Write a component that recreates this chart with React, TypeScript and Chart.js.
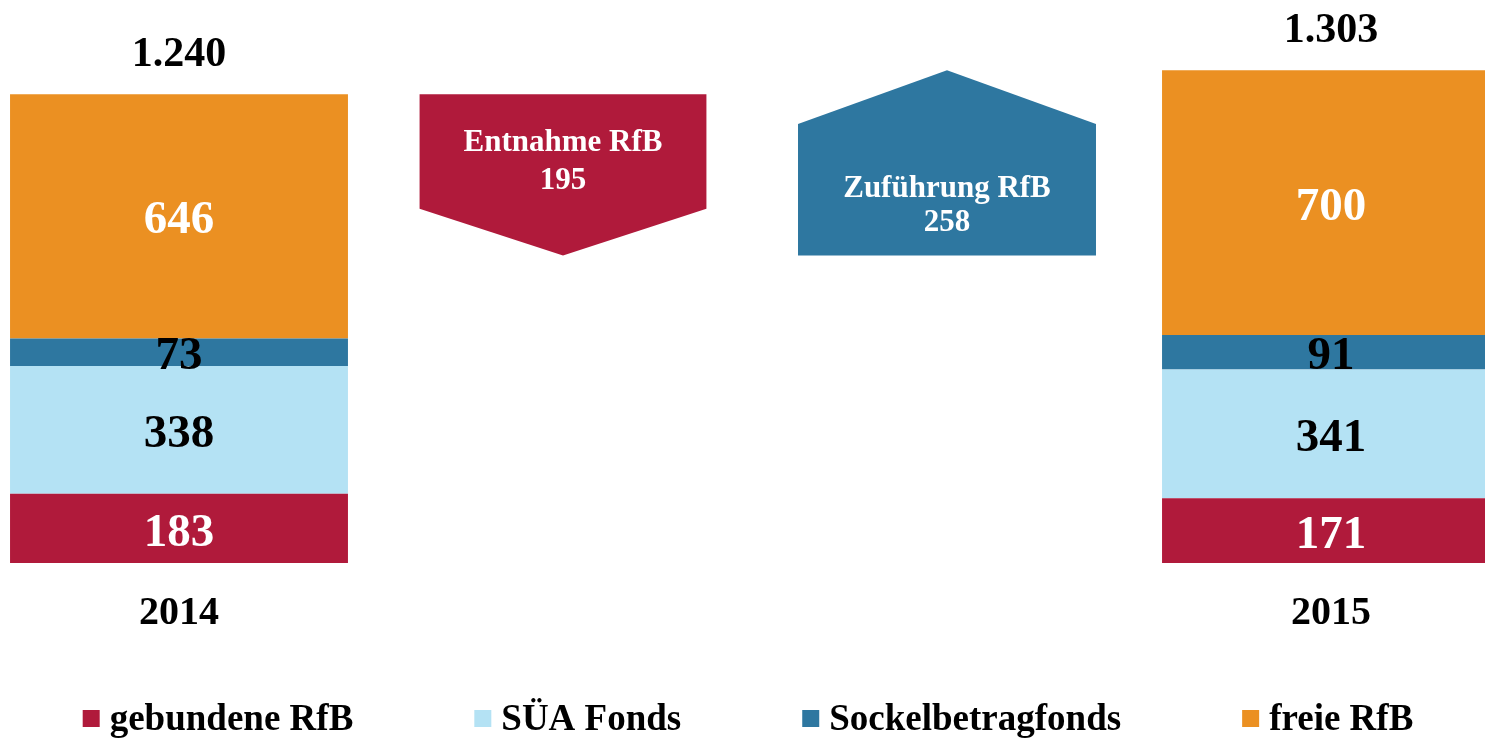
import React, { useEffect, useRef } from "react";
import { Chart, registerables } from "chart.js";

Chart.register(...registerables);

// ---- data ----
const categories = ["2014", "Entnahme RfB", "Zuführung RfB", "2015"];
const gebundeneRfB = [183, null, null, 171];
const sueaFonds = [338, null, null, 341];
const sockelbetragfonds = [73, null, null, 91];
const freieRfB = [646, null, null, 700];
const totals = [1240, null, null, 1303];
const entnahmeValue = 195;
const zufuehrungValue = 258;
const arrowFloor = 813;
const entnahmeRange = [null, [arrowFloor, 1240], null, null];
const zufuehrungRange = [null, null, [arrowFloor, 1303], null];

const RED = "#B01A3B";
const LIGHT = "#B4E2F4";
const DARK = "#2E77A0";
const ORANGE = "#EB9022";
const FONT = "'Liberation Serif', 'Times New Roman', serif";

const fmt = (n: number) => String(n).replace(/\B(?=(\d{3})+(?!\d))/g, ".");

const legendItems = [
  { label: "gebundene RfB", color: RED },
  { label: "SÜA Fonds", color: LIGHT },
  { label: "Sockelbetragfonds", color: DARK },
  { label: "freie RfB", color: ORANGE },
];

const arrowPlugin = {
  id: "arrowShapes",
  afterDatasetsDraw(chart: any) {
    const ctx = chart.ctx;
    chart.data.datasets.forEach((ds: any, di: number) => {
      if (!ds.arrowDir) return;
      const meta = chart.getDatasetMeta(di);
      meta.data.forEach((el: any, i: number) => {
        if (ds.data[i] == null) return;
        const { x, y, base, width } = el.getProps(["x", "y", "base", "width"], true);
        const top = Math.min(y, base);
        const bottom = Math.max(y, base);
        const h = bottom - top;
        const head = h * 0.29;
        const l = x - width / 2;
        const r = x + width / 2;
        ctx.save();
        ctx.fillStyle = ds.arrowColor;
        ctx.beginPath();
        if (ds.arrowDir === "down") {
          ctx.moveTo(l, top);
          ctx.lineTo(r, top);
          ctx.lineTo(r, bottom - head);
          ctx.lineTo(x, bottom);
          ctx.lineTo(l, bottom - head);
        } else {
          ctx.moveTo(x, top);
          ctx.lineTo(r, top + head);
          ctx.lineTo(r, bottom);
          ctx.lineTo(l, bottom);
          ctx.lineTo(l, top + head);
        }
        ctx.closePath();
        ctx.fill();
        ctx.fillStyle = "#ffffff";
        ctx.font = `bold 31px ${FONT}`;
        ctx.textAlign = "center";
        ctx.textBaseline = "middle";
        if (ds.arrowDir === "down") {
          ctx.fillText(ds.label, x, top + 49);
          ctx.fillText(String(ds.arrowValue), x, top + 87);
        } else {
          ctx.fillText(ds.label, x, bottom - 67);
          ctx.fillText(String(ds.arrowValue), x, bottom - 33);
        }
        ctx.restore();
      });
    });
  },
};

const labelPlugin = {
  id: "barLabels",
  afterDatasetsDraw(chart: any) {
    const ctx = chart.ctx;
    ctx.save();
    ctx.textAlign = "center";
    ctx.textBaseline = "middle";
    chart.data.datasets.forEach((ds: any, di: number) => {
      if (ds.arrowDir) return;
      const meta = chart.getDatasetMeta(di);
      meta.data.forEach((el: any, i: number) => {
        const v = ds.data[i];
        if (v == null) return;
        const { x, y, base } = el.getProps(["x", "y", "base"], true);
        ctx.font = `bold 47px ${FONT}`;
        ctx.fillStyle = ds.labelColor;
        ctx.fillText(String(v), x, (y + base) / 2 + 5);
      });
    });
    // totals
    const lastMeta = chart.getDatasetMeta(3);
    const yScale = chart.scales.y;
    totals.forEach((t, i) => {
      if (t == null) return;
      const el: any = lastMeta.data[i];
      ctx.font = `bold 42px ${FONT}`;
      ctx.fillStyle = "#000000";
      ctx.fillText(fmt(t), el.x, yScale.getPixelForValue(t) - 39);
    });
    ctx.restore();
  },
};

const legendPlugin = {
  id: "customLegend",
  afterDraw(chart: any) {
    const ctx = chart.ctx;
    ctx.save();
    ctx.font = `bold 37px ${FONT}`;
    ctx.textBaseline = "alphabetic";
    ctx.textAlign = "left";
    const box = 17;
    const gapText = 10;
    const gapItem = 121;
    const widths = legendItems.map((it) => box + gapText + ctx.measureText(it.label).width);
    const total = widths.reduce((a, b) => a + b, 0) + gapItem * (legendItems.length - 1);
    let x = chart.width / 2 - 7 - total / 2;
    const baseline = 730;
    legendItems.forEach((it, i) => {
      ctx.fillStyle = it.color;
      ctx.fillRect(x, baseline - 20, box, box);
      ctx.fillStyle = "#000000";
      ctx.fillText(it.label, x + box + gapText, baseline);
      x += widths[i] + gapItem;
    });
    ctx.restore();
  },
};

export default function App() {
  const ref = useRef<HTMLCanvasElement | null>(null);
  useEffect(() => {
    if (!ref.current) return;
    Chart.defaults.font.family = FONT;
    const chart = new Chart(ref.current, {
      type: "bar",
      data: {
        labels: categories,
        datasets: [
          { label: "gebundene RfB", data: gebundeneRfB, backgroundColor: RED, labelColor: "#ffffff", barPercentage: 0.88 } as any,
          { label: "SÜA Fonds", data: sueaFonds, backgroundColor: LIGHT, labelColor: "#000000", barPercentage: 0.88 } as any,
          { label: "Sockelbetragfonds", data: sockelbetragfonds, backgroundColor: DARK, labelColor: "#000000", barPercentage: 0.88 } as any,
          { label: "freie RfB", data: freieRfB, backgroundColor: ORANGE, labelColor: "#ffffff", barPercentage: 0.88 } as any,
          { label: "Entnahme RfB", data: entnahmeRange, backgroundColor: "rgba(0,0,0,0)", arrowColor: RED, arrowDir: "down", arrowValue: entnahmeValue, barPercentage: 0.747 } as any,
          { label: "Zuführung RfB", data: zufuehrungRange, backgroundColor: "rgba(0,0,0,0)", arrowColor: DARK, arrowDir: "up", arrowValue: zufuehrungValue, barPercentage: 0.776 } as any,
        ],
      },
      options: {
        responsive: false,
        animation: false,
        layout: { padding: { top: 0, bottom: 84, left: 0, right: 0 } },
        datasets: { bar: { categoryPercentage: 1 } },
        plugins: {
          legend: { display: false },
          tooltip: { enabled: false },
        },
        scales: {
          x: {
            stacked: true,
            grid: { display: false },
            border: { display: false },
            ticks: {
              color: "#000000",
              padding: 19,
              font: { size: 40, weight: "bold", family: FONT },
              callback: function (this: any, _v: any, i: number) {
                const lab = categories[i];
                return lab === "2014" || lab === "2015" ? lab : "";
              },
            },
          },
          y: {
            stacked: true,
            display: false,
            min: 0,
            max: 1489,
          },
        },
      },
      plugins: [arrowPlugin, labelPlugin, legendPlugin],
    } as any);
    return () => chart.destroy();
  }, []);
  return (
    <div style={{ position: "fixed", left: 0, top: 0, width: 1485, height: 741, overflow: "hidden", background: "#ffffff" }}>
      <canvas ref={ref} width={1536} height={741} style={{ position: "absolute", left: -13, top: 0, width: 1536, height: 741 }} />
    </div>
  );
}
